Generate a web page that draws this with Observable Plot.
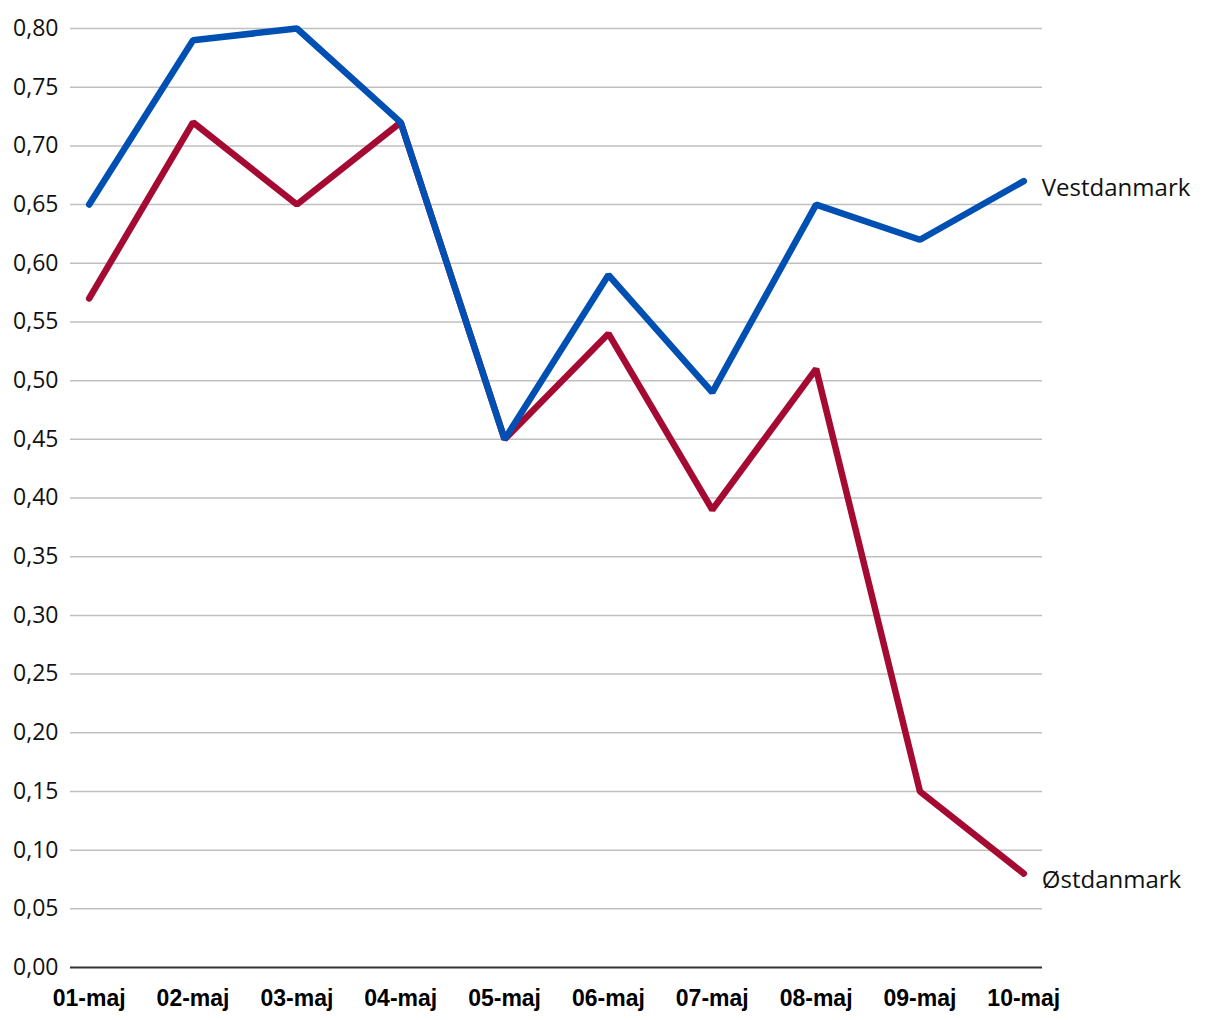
<!DOCTYPE html>
<html>
<head>
<meta charset="utf-8">
<script src="https://cdn.jsdelivr.net/npm/d3@7"></script>
<script src="https://cdn.jsdelivr.net/npm/@observablehq/plot@0.6"></script>
<style>
body { margin: 0; background: #fff; }
</style>
</head>
<body>
<div id="chart"></div>
<script>
const dates = ["01-maj","02-maj","03-maj","04-maj","05-maj","06-maj","07-maj","08-maj","09-maj","10-maj"];
const vest = [0.65, 0.79, 0.80, 0.72, 0.45, 0.59, 0.49, 0.65, 0.62, 0.67];
const oest = [0.57, 0.72, 0.65, 0.72, 0.45, 0.54, 0.39, 0.51, 0.15, 0.08];
const seriesNames = ["Østdanmark", "Vestdanmark"];
const seriesColors = ["#a50a32", "#0050b4"];
const yTicks = d3.range(0, 0.801, 0.05);

const rows = [];
dates.forEach((d, i) => {
  rows.push({date: d, value: oest[i], series: seriesNames[0]});
  rows.push({date: d, value: vest[i], series: seriesNames[1]});
});
const last = rows.filter(r => r.date === dates[dates.length - 1]);

const fmt = v => v.toFixed(2).replace(".", ",");

const chart = Plot.plot({
  width: 1220,
  height: 1020,
  marginLeft: 70,
  marginRight: 178,
  marginTop: 28,
  marginBottom: 53,
  style: {background: "#fff", overflow: "visible"},
  x: {type: "point", domain: dates, padding: 0.18, round: false, label: null, axis: null},
  y: {domain: [0, 0.8], ticks: yTicks, label: null, axis: null},
  color: {domain: seriesNames, range: seriesColors},
  marks: [
    Plot.ruleY(yTicks.filter(t => t > 0.001), {stroke: "#c0c0c0", strokeWidth: 1.5}),
    Plot.ruleY([0], {stroke: "#333", strokeWidth: 2}),
    Plot.axisY({ticks: yTicks, tickFormat: fmt, tickSize: 0, tickPadding: 12, fontSize: 23, fontFamily: "Open Sans", fill: "#111", label: null}),
    Plot.axisX({tickSize: 0, tickPadding: 22, fontSize: 23, fontWeight: "bold", fontFamily: "Liberation Sans", fill: "#000", label: null}),
    Plot.line(rows, {x: "date", y: "value", z: "series", stroke: "series", strokeWidth: 6.5, strokeLinecap: "round", strokeLinejoin: "miter"}),
    Plot.text(last, {x: "date", y: "value", text: "series", textAnchor: "start", dx: 18, dy: 7, fontSize: 24, fontFamily: "Open Sans", fill: "#111"})
  ]
});
document.getElementById("chart").appendChild(chart);
</script>
</body>
</html>
